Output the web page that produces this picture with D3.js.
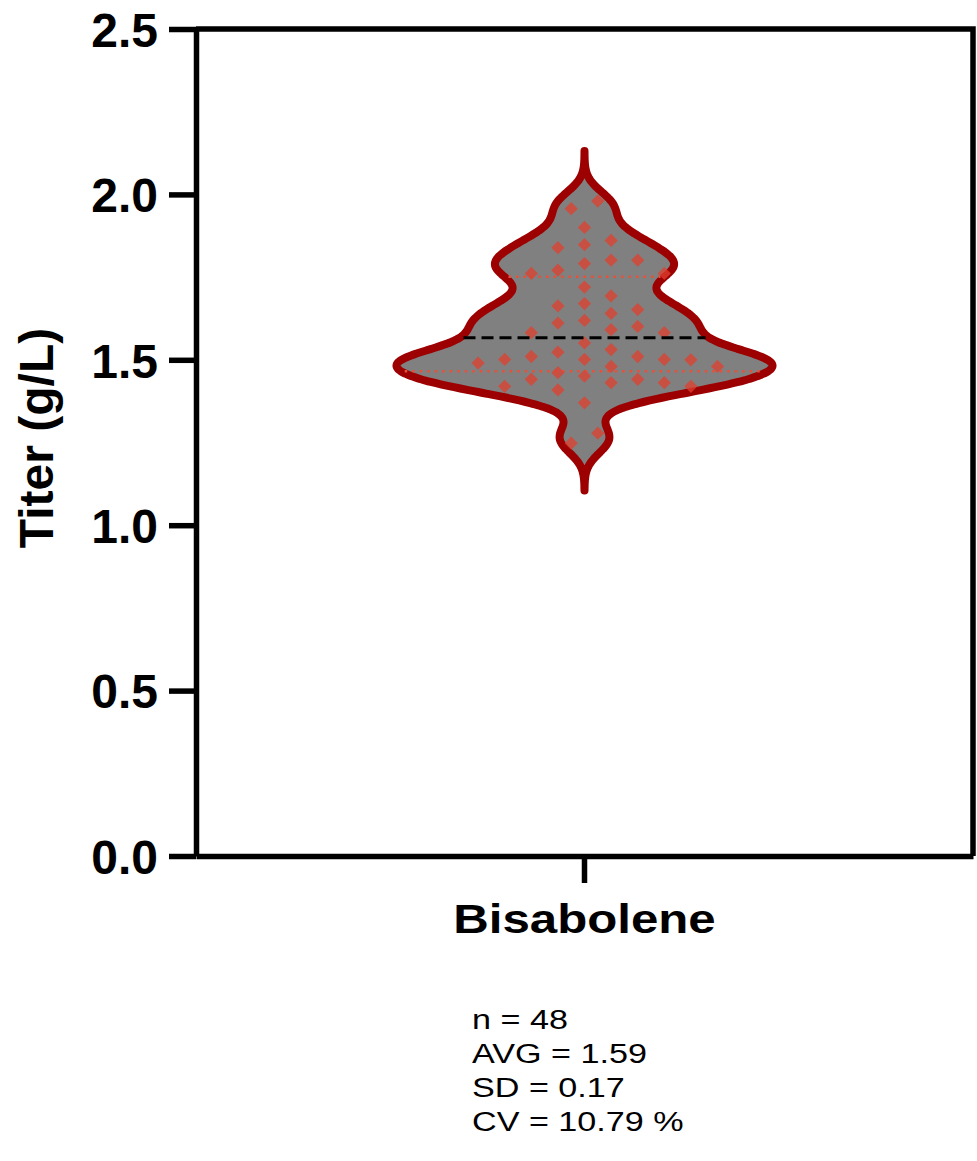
<!DOCTYPE html>
<html>
<head>
<meta charset="utf-8">
<script src="https://cdn.jsdelivr.net/npm/d3@7"></script>
<style>
  body { margin: 0; background: #fff; }
  svg text { font-family: "Liberation Sans", Arial, sans-serif; }
</style>
</head>
<body>
<div id="chart"></div>
<script>
// data
const categories = ["Bisabolene"];
const titerValues = [
    1.980, 1.957, 1.900, 1.861, 1.848, 1.839, 1.801, 1.801, 1.791, 1.771,
    1.761, 1.761, 1.720, 1.693, 1.670, 1.663, 1.652, 1.640, 1.619, 1.611,
    1.601, 1.591, 1.582, 1.582, 1.551, 1.531, 1.523, 1.510, 1.510, 1.501,
    1.501, 1.501, 1.500, 1.490, 1.480, 1.480, 1.461, 1.451, 1.441, 1.441,
    1.431, 1.431, 1.420, 1.420, 1.409, 1.370, 1.278, 1.248
];
const yTicks = [0, 0.5, 1.0, 1.5, 2.0, 2.5];
const statsLines = ["n = 48", "AVG = 1.59", "SD = 0.17", "CV = 10.79 %"];

const width = 977, height = 1161;
const margin = { top: 29, right: 4, bottom: 305, left: 196 };

const svg = d3.select("#chart").append("svg")
    .attr("width", width)
    .attr("height", height);

const y = d3.scaleLinear().domain([0, 2.5]).range([height - margin.bottom, margin.top]);
const x = d3.scaleBand().domain(categories).range([margin.left, width - margin.right]);

// axes
const yAxis = svg.append("g")
    .attr("transform", `translate(${margin.left},0)`)
    .call(d3.axisLeft(y).tickValues(yTicks).tickFormat(d3.format(".1f"))
        .tickSize(27).tickSizeOuter(0).tickPadding(11));
yAxis.selectAll("text")
    .attr("dy", "0.36em")
    .style("font-size", "48px").style("font-weight", "bold").attr("fill", "#000");

const xAxis = svg.append("g")
    .attr("transform", `translate(0,${y(0)})`)
    .call(d3.axisBottom(x).tickSize(27).tickSizeOuter(0).tickPadding(21));
xAxis.selectAll("text")
    .attr("transform", "scale(1.2,1)")
    .style("font-size", "41px").style("font-weight", "bold").attr("fill", "#000");

svg.selectAll(".domain, .tick line")
    .attr("stroke", "#000").attr("stroke-width", 5.5);

// top and right frame
svg.append("path")
    .attr("d", `M${margin.left},${y(2.5)}H${width - margin.right}V${y(0)}`)
    .attr("fill", "none").attr("stroke", "#000").attr("stroke-width", 5.5);

// y title
svg.append("text")
    .attr("transform", `translate(53,438) rotate(-90)`)
    .attr("text-anchor", "middle")
    .style("font-size", "48px").style("font-weight", "bold")
    .text("Titer (g/L)");

// kernel density for the violin
const bw = 0.042;
const density = v => d3.sum(titerValues, t => Math.exp(-0.5 * ((v - t) / bw) ** 2));
const lo = d3.min(titerValues) - 3.4 * bw, hi = d3.max(titerValues) + 3.6 * bw;
const grid = d3.range(lo, hi, 0.004).concat([hi]);
const dens = grid.map(v => ({ v: v, d: density(v) }));
const dMax = d3.max(dens, d => d.d);
const halfW = d3.scaleLinear().domain([0, dMax]).range([0, 188]);

const cx = x("Bisabolene") + x.bandwidth() / 2;

const area = d3.area()
    .curve(d3.curveCatmullRom)
    .y(d => y(d.v))
    .x0(d => cx - halfW(d.d))
    .x1(d => cx + halfW(d.d));

svg.append("path")
    .datum(dens)
    .attr("d", area)
    .attr("fill", "#808080")
    .attr("stroke", "#9c0000")
    .attr("stroke-width", 8)
    .attr("stroke-linejoin", "round");

// quartiles (n+1)p method
const sorted = titerValues.slice().sort(d3.ascending);
function quant(p) {
    const pos = p * (sorted.length + 1) - 1;
    const i = Math.floor(pos), f = pos - i;
    return sorted[i] + f * (sorted[i + 1] - sorted[i]);
}
const q1 = quant(0.25), med = quant(0.5), q3 = quant(0.75);

svg.selectAll(".quart")
    .data([q1, q3])
    .enter().append("line")
    .attr("class", "quart")
    .attr("x1", d => cx - halfW(density(d)) + 4)
    .attr("x2", d => cx + halfW(density(d)) - 4)
    .attr("y1", d => y(d)).attr("y2", d => y(d))
    .attr("stroke", "#e8503a")
    .attr("stroke-width", 2.5)
    .attr("stroke-dasharray", "2.5,5");

// swarm: columns on a grid, centre first, keep a gap within a column,
// stay inside the violin; where only the centre fits, split a clash into a pair
const colStep = 26.6, minGap = 16;
const cols = d3.range(0, 21).map(k => k === 0 ? 0 : (k % 2 ? Math.ceil(k / 2) : -Math.ceil(k / 2)));
const placed = [];
sorted.slice().reverse().forEach(v => {
    const py = y(v);
    const room = halfW(density(v)) - 4;
    const hits = c => placed.filter(p => Math.abs(p.c - c) < 1 && Math.abs(p.y - py) < minGap);
    const inside = cols.filter(c => Math.abs(c) * colStep + 7 <= room);
    let c = inside.find(c => hits(c).length === 0);
    if (c === undefined && inside.length <= 1) {
        hits(0).forEach(p => { p.c = 0.5; });
        c = -0.5;
    } else if (c === undefined) {
        c = cols.find(c => hits(c).length === 0);
    }
    placed.push({ v: v, y: py, c: c });
});

svg.selectAll(".pt")
    .data(placed)
    .enter().append("path")
    .attr("class", "pt")
    .attr("d", d3.symbol().type(d3.symbolSquare).size(88))
    .attr("transform", d => `translate(${cx + d.c * colStep},${d.y}) rotate(45)`)
    .attr("fill", "#e0402f")
    .attr("fill-opacity", 0.75);

// median
svg.append("line")
    .attr("x1", cx - halfW(density(med)) + 4)
    .attr("x2", cx + halfW(density(med)) - 4)
    .attr("y1", y(med)).attr("y2", y(med))
    .attr("stroke", "#000")
    .attr("stroke-width", 3)
    .attr("stroke-dasharray", "12,6");

// stats block
svg.selectAll(".stat")
    .data(statsLines)
    .enter().append("text")
    .attr("class", "stat")
    .attr("transform", (d, i) => `translate(472,${1029 + i * 34}) scale(1.22,1)`)
    .style("font-size", "28px")
    .text(d => d);
</script>
</body>
</html>
